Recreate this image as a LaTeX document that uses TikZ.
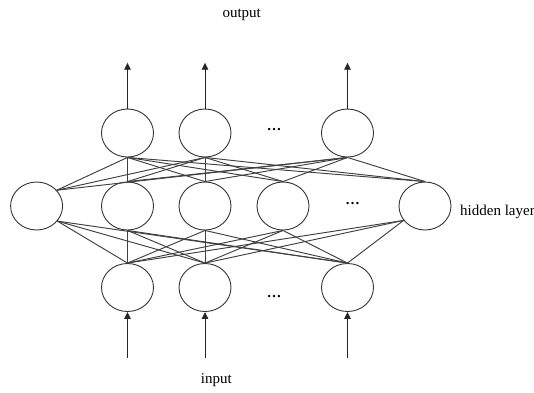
\documentclass[tikz,border=0pt]{standalone}
\usepackage{fontspec}
\setmainfont{Liberation Serif}
\usetikzlibrary{shapes.geometric,arrows.meta}
\begin{document}
\begin{tikzpicture}[x=1pt,y=-1pt,
  neuron/.style={ellipse,draw=black!80,line width=0.9pt,minimum width=52pt,minimum height=48pt,inner sep=0pt},
  wire/.style={draw=black!75,line width=0.95pt},
  arr/.style={draw=black!85,line width=0.9pt,-{Triangle[length=7pt,width=6.5pt]}},
  lbl/.style={font=\fontsize{15}{18}\selectfont,inner sep=0pt},
  dots/.style={font=\fontsize{14.5}{17}\selectfont\bfseries,inner sep=0pt,anchor=base}]
\useasboundingbox (0,0) rectangle (534,392);
% nodes
\node[neuron] (t1) at (127.5,133) {};
\node[neuron] (t2) at (205,133) {};
\node[neuron] (t3) at (347.5,133) {};
\node[neuron] (h1) at (36.6,206) {};
\node[neuron] (h2) at (127.5,206) {};
\node[neuron] (h3) at (205,206) {};
\node[neuron] (h4) at (283,206) {};
\node[neuron] (h5) at (425,206) {};
\node[neuron] (b1) at (127.5,287.5) {};
\node[neuron] (b2) at (205,287.5) {};
\node[neuron] (b3) at (347.5,287.5) {};
% dots
\node[dots] (d1) at (274,130) {…};
\node[dots] (d2) at (352.5,204) {…};
\node[dots] (d3) at (274,297) {…};
% labels
\node[lbl,anchor=base] (out) at (241.7,17.5) {output};
\node[lbl,anchor=base] (in) at (216.3,383.3) {input};
\node[lbl,anchor=base west] (hl) at (460,215) {hidden layer};
% arrow ends
\coordinate (o1) at (127.5,62.7);
\coordinate (o2) at (205,62.7);
\coordinate (o3) at (347.5,62.7);
\coordinate (i1) at (127.5,358);
\coordinate (i2) at (205,358);
\coordinate (i3) at (347.5,358);
\foreach \k in {1,2,3}{
  \draw[arr] (t\k.north) -- (o\k);
  \draw[arr] (i\k) -- (b\k.south);
}
% top to hidden
\foreach \k in {1,2,3}{
  \draw[wire] (t\k.south) -- (h1.38);
  \draw[wire] (t\k.south) -- (h2.north);
  \draw[wire] (t\k.south) -- (h3.north);
  \draw[wire] (t\k.south) -- (h4.north);
  \draw[wire] (t\k.south) -- (h5.north);
}
% hidden to bottom
\foreach \k in {1,2,3}{
  \draw[wire] (b\k.north) -- (h1.-36);
  \draw[wire] (b\k.north) -- (h2.south);
  \draw[wire] (b\k.north) -- (h3.south);
  \draw[wire] (b\k.north) -- (h4.south);
  \draw[wire] (b\k.north) -- (h5.214);
}
\end{tikzpicture}
\end{document}
